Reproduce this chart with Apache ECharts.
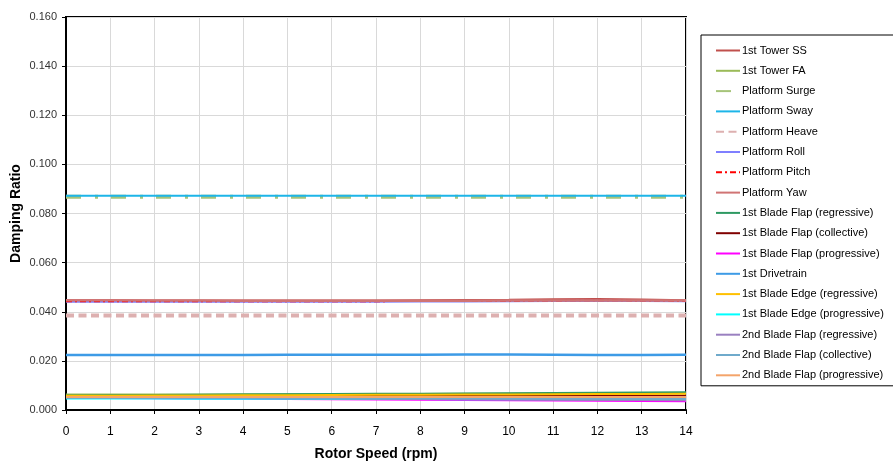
<!DOCTYPE html>
<html>
<head>
<meta charset="utf-8">
<script src="https://cdn.jsdelivr.net/npm/echarts@6/dist/echarts.min.js"></script>
<style>html,body{margin:0;padding:0;background:#fff}#c{width:893px;height:464px}</style>
</head>
<body>
<div id="c"></div>
<script>
var rpm = [0,1,2,3,4,5,6,7,8,9,10,11,12,13,14];
var yTicks = [0,0.02,0.04,0.06,0.08,0.10,0.12,0.14,0.16];

var towerSS   = [0.0446,0.0446,0.0446,0.0446,0.0446,0.0446,0.0446,0.0446,0.0447,0.0448,0.0449,0.0451,0.0452,0.0450,0.0447];
var towerFA   = [0.0063,0.0063,0.0063,0.0063,0.0064,0.0064,0.0064,0.0065,0.0065,0.0066,0.0066,0.0067,0.0067,0.0068,0.0068];
var platSurge = [0.0868,0.0868,0.0868,0.0868,0.0868,0.0868,0.0868,0.0868,0.0868,0.0868,0.0868,0.0868,0.0868,0.0868,0.0868];
var platSway  = [0.0872,0.0872,0.0872,0.0872,0.0872,0.0872,0.0872,0.0872,0.0872,0.0872,0.0872,0.0872,0.0872,0.0872,0.0872];
var platHeave = [0.0385,0.0385,0.0385,0.0385,0.0385,0.0385,0.0385,0.0385,0.0385,0.0385,0.0385,0.0385,0.0385,0.0385,0.0385];
var platRoll  = [0.0441,0.0441,0.0441,0.0441,0.0441,0.0441,0.0441,0.0441,0.0442,0.0442,0.0443,0.0444,0.0445,0.0444,0.0443];
var platPitch = [0.0442,0.0442,0.0442,0.0442,0.0442,0.0442,0.0442,0.0442,0.0443,0.0443,0.0444,0.0445,0.0446,0.0445,0.0444];
var platYaw   = [0.0447,0.0447,0.0446,0.0446,0.0445,0.0445,0.0445,0.0445,0.0445,0.0445,0.0446,0.0446,0.0446,0.0446,0.0446];
var flapReg   = [0.0059,0.0060,0.0061,0.0062,0.0063,0.0064,0.0065,0.0066,0.0066,0.0067,0.0068,0.0069,0.0070,0.0071,0.0072];
var flapCol   = [0.0056,0.0056,0.0056,0.0056,0.0057,0.0057,0.0057,0.0057,0.0057,0.0058,0.0058,0.0058,0.0058,0.0058,0.0058];
var flapProg  = [0.0050,0.0049,0.0048,0.0047,0.0046,0.0045,0.0044,0.0043,0.0042,0.0041,0.0040,0.0039,0.0038,0.0037,0.0036];
var drivetrain= [0.0224,0.0224,0.0224,0.0224,0.0224,0.0225,0.0225,0.0225,0.0225,0.0226,0.0226,0.0225,0.0224,0.0224,0.0225];
var edgeReg   = [0.0058,0.0058,0.0059,0.0059,0.0060,0.0060,0.0061,0.0062,0.0062,0.0063,0.0063,0.0064,0.0065,0.0065,0.0066];
var edgeProg  = [0.0047,0.0047,0.0047,0.0046,0.0046,0.0046,0.0045,0.0045,0.0045,0.0044,0.0044,0.0044,0.0043,0.0043,0.0043];
var flap2Reg  = [0.0052,0.0051,0.0051,0.0050,0.0049,0.0048,0.0047,0.0046,0.0045,0.0044,0.0043,0.0042,0.0041,0.0041,0.0040];
var flap2Col  = [0.0050,0.0050,0.0050,0.0049,0.0049,0.0048,0.0048,0.0047,0.0047,0.0047,0.0046,0.0046,0.0046,0.0045,0.0045];
var flap2Prog = [0.0053,0.0053,0.0053,0.0053,0.0053,0.0053,0.0053,0.0053,0.0053,0.0053,0.0053,0.0053,0.0053,0.0053,0.0053];

var seriesDefs = [
  ['1st Tower SS', towerSS, '#C0504D', 2, 'solid'],
  ['1st Tower FA', towerFA, '#9BBB59', 2, 'solid'],
  ['Platform Surge', platSurge, '#A6C47A', 4, [15,14,3,13]],
  ['Platform Sway', platSway, '#1DB5E8', 2, 'solid'],
  ['Platform Heave', platHeave, '#DDB0B0', 4, [8,4.5]],
  ['Platform Roll', platRoll, '#7F7FFF', 2, 'solid'],
  ['Platform Pitch', platPitch, '#FF0000', 1.5, [6,3,2,3]],
  ['Platform Yaw', platYaw, '#D07474', 2.5, 'solid'],
  ['1st Blade Flap (regressive)', flapReg, '#2E9962', 2, 'solid'],
  ['1st Blade Flap (collective)', flapCol, '#800000', 2, 'solid'],
  ['1st Blade Flap (progressive)', flapProg, '#FF00FF', 2, 'solid'],
  ['1st Drivetrain', drivetrain, '#3D9BE6', 2.5, 'solid'],
  ['1st Blade Edge (regressive)', edgeReg, '#FFC000', 2, 'solid'],
  ['1st Blade Edge (progressive)', edgeProg, '#00FFFF', 2, 'solid'],
  ['2nd Blade Flap (regressive)', flap2Reg, '#9A80C0', 2, 'solid'],
  ['2nd Blade Flap (collective)', flap2Col, '#6FAACB', 2, 'solid'],
  ['2nd Blade Flap (progressive)', flap2Prog, '#F4A46A', 2, 'solid']
];

var series = seriesDefs.map(function(d){
  return {
    name: d[0], type: 'line', symbol: 'none', animation: false,
    data: rpm.map(function(x,i){ return [x, d[1][i]]; }),
    lineStyle: { color: d[2], width: d[3], type: d[4] },
    itemStyle: { color: d[2] }
  };
});

var chart = echarts.init(document.getElementById('c'), null, {renderer:'canvas'});
chart.setOption({
  backgroundColor: '#fff',
  animation: false,
  textStyle: { fontFamily: 'Liberation Sans, Arial, sans-serif' },
  grid: { left: 66, top: 17, width: 620, height: 393, show: true, borderColor: '#000', borderWidth: 2, containLabel: false, outerBoundsMode: 'none' },
  legend: {
    orient: 'vertical', left: 701, top: 35,
    itemWidth: 24, itemHeight: 11, itemGap: 9.3,
    padding: [10, 30, 5, 14],
    borderColor: '#000', borderWidth: 1,
    itemStyle: { opacity: 0 },
    textStyle: { fontSize: 11, color: '#000', fontFamily: 'Liberation Sans, Arial, sans-serif', padding: [0,0,0,-3] },
    data: seriesDefs.map(function(d){ return d[0]; })
  },
  xAxis: {
    type: 'value', min: 0, max: 14, interval: 1,
    name: 'Rotor Speed (rpm)', nameLocation: 'middle', nameGap: 37,
    nameTextStyle: { fontSize: 14, fontWeight: 'bold', color: '#000' },
    axisLine: { lineStyle: { color: '#000', width: 2 } },
    axisTick: { show: true, length: 4, lineStyle: { color: '#000' } },
    axisLabel: { fontSize: 12, color: '#000', margin: 16 },
    splitLine: { show: true, lineStyle: { color: '#D9D9D9', width: 1 } }
  },
  yAxis: {
    type: 'value', min: yTicks[0], max: yTicks[yTicks.length-1], interval: 0.02,
    name: 'Damping Ratio', nameLocation: 'middle', nameGap: 43, nameMoveOverlap: false,
    nameTextStyle: { fontSize: 14, fontWeight: 'bold', color: '#000' },
    axisLine: { show: true, lineStyle: { color: '#000', width: 2 } },
    axisTick: { show: true, length: 4, lineStyle: { color: '#000' } },
    axisLabel: { fontSize: 11, color: '#333', margin: 9, formatter: function(v){ return v.toFixed(3); } },
    splitLine: { show: true, lineStyle: { color: '#D9D9D9', width: 1 } }
  },
  series: series
});
</script>
</body>
</html>
